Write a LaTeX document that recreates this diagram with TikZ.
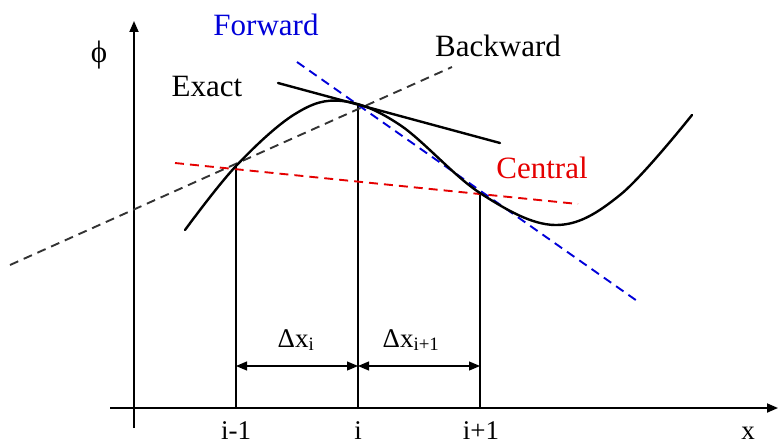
\documentclass[tikz,border=0pt]{standalone}
\usepackage{fontspec}
\setmainfont{Liberation Serif}
\usetikzlibrary{arrows.meta}
\begin{document}
\begin{tikzpicture}[x=1pt,y=-1pt,
  lbl/.style={inner sep=0pt, font=\fontsize{31}{34}\selectfont},
  ticklbl/.style={inner sep=0pt, anchor=base, font=\fontsize{27}{30}\selectfont},
  dlbl/.style={inner sep=0pt, anchor=base, font=\fontsize{27}{30}\selectfont},
  axis/.style={line width=1.8pt, -{Triangle[length=11pt,width=9pt]}},
  guide/.style={line width=1.2pt},
  dim/.style={line width=1.2pt, {Triangle[length=11pt,width=9pt]}-{Triangle[length=11pt,width=9pt]}},
  curvestyle/.style={line width=2.4pt, line cap=round},
  tangent/.style={line width=2.4pt, line cap=round},
  approx/.style={line width=1.9pt, dash pattern=on 9pt off 6pt}
]
\useasboundingbox (0,0) rectangle (778,444);
% axes
\coordinate (xs) at (110,408);
\coordinate (xe) at (778,408);
\coordinate (ys) at (134,428);
\coordinate (ye) at (134,21);
\draw[axis] (xs) -- (xe);
\draw[axis] (ys) -- (ye);
% grid points
\coordinate (pm) at (236,166);
\coordinate (pi) at (358,104);
\coordinate (pp) at (480,193);
\coordinate (bm) at (236,408);
\coordinate (bi) at (358,408);
\coordinate (bp) at (480,408);
\draw[guide] (pm) -- (bm);
\draw[guide] (pi) -- (bi);
\draw[guide] (pp) -- (bp);
% dimension arrows
\coordinate (am) at (236,366);
\coordinate (ai) at (358,366);
\coordinate (ap) at (480,366);
\draw[dim] (am) -- (ai);
\draw[dim] (ai) -- (ap);
% approximations
\coordinate (bk1) at (10,265);
\coordinate (bk2) at (452,67);
\draw[approx, black!80] (bk1) -- (bk2);
\coordinate (c1) at (175,163);
\coordinate (c2) at (578,204);
\draw[approx, red!90!black] (c1) -- (c2);
\coordinate (f1) at (297,62);
\coordinate (f2) at (640,303);
\draw[approx, blue!85!black] (f1) -- (f2);
% exact tangent
\coordinate (t1) at (278,83);
\coordinate (t2) at (500,143);
\draw[tangent] (t1) -- (t2);
% curve
\draw[curvestyle] plot[smooth, tension=0.6] coordinates {
 (185,230) (236,166) (295,114) (342,101) (400,125) (480,193)
 (555,225) (620,195) (692,115)};
% labels
\node[lbl] (phi) at (99,55) {ϕ};
\node[lbl, text=blue!85!black] (fw) at (266,25) {Forward};
\node[lbl] (bw) at (498,46) {Backward};
\node[lbl] (ex) at (207,87) {Exact};
\node[lbl, text=red!90!black] (ce) at (542,168) {Central};
\node[ticklbl] (lm) at (236,439) {i-1};
\node[ticklbl] (li) at (358,439) {i};
\node[ticklbl] (lp) at (481,439) {i+1};
\node[ticklbl] (lx) at (748,439) {x};
\node[dlbl] (dxi) at (296,347) {Δx\textsubscript{i}};
\node[dlbl] (dxp) at (411,347) {Δx\textsubscript{i+1}};
\end{tikzpicture}
\end{document}
